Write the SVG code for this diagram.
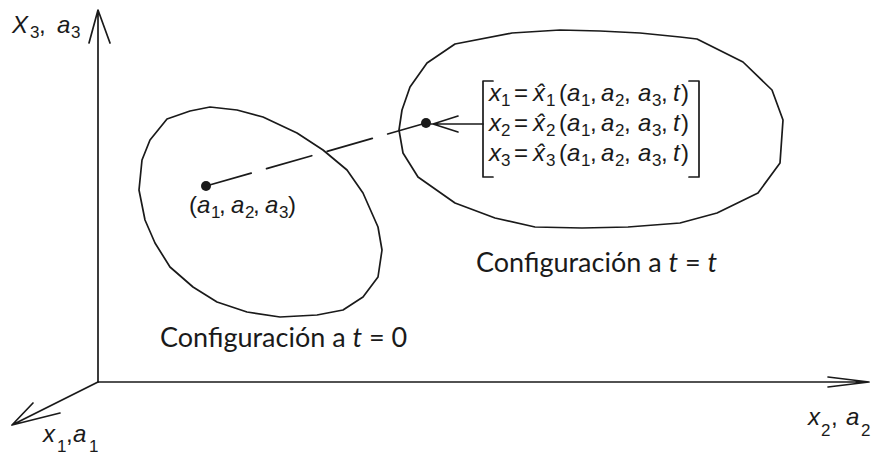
<svg xmlns="http://www.w3.org/2000/svg" width="871" height="456" viewBox="0 0 871 456">
<style>
.ln{fill:none;stroke:#1a1a1a;stroke-width:1.7;stroke-linejoin:round;stroke-linecap:round}
.m{font-family:"Liberation Sans",Arial,sans-serif;font-size:24px;font-style:italic;fill:#1a1a1a}
.s{font-family:"Liberation Sans",Arial,sans-serif;font-size:17px;font-style:normal;fill:#1a1a1a}
.u{font-style:normal}
.cfg{font-family:Lato,"Open Sans",sans-serif;font-size:27px;fill:#1a1a1a}
</style>
<rect width="871" height="456" fill="#fff"/>
<g id="axes">
  <path class="ln" d="M98,382 V10 M89,43 L98,10 L110,43"/>
  <path class="ln" d="M98,382 H869 M828,377 L869,382 L828,387"/>
  <path class="ln" d="M98,382 L12,425 M33,403 L12,425 L60,413"/>
  <text class="m" x="12" y="33">X</text><text class="s" x="30" y="38">3</text><text class="m u" x="39" y="33">,</text>
  <text class="m" x="57" y="33">a</text><text class="s" x="71" y="38">3</text>
  <text class="m" x="43" y="442">x</text><text class="s" x="57" y="452">1</text><text class="m u" x="66" y="442">,</text>
  <text class="m" x="73" y="442">a</text><text class="s" x="89" y="452">1</text>
  <text class="m" x="808" y="425">x</text><text class="s" x="821" y="436">2</text><text class="m u" x="831" y="425">,</text>
  <text class="m" x="846" y="425">a</text><text class="s" x="861" y="436">2</text>
</g>
<g id="config0">
  <polygon class="ln" points="210,107 237,110 263,117 297,133 323,150 347,170 363,193 378,227 382,250 378,277 363,297 343,310 317,315 280,317 247,312 217,302 193,287 170,267 155,243 145,220 139,190 142,160 150,140 167,119 190,111"/>
  <circle cx="206" cy="186" r="5" fill="#1a1a1a"/>
  <text class="m u" x="189" y="213">(</text><text class="m" x="197" y="213">a</text><text class="s" x="211" y="218">1</text><text class="m u" x="219" y="213">,</text>
  <text class="m" x="231" y="213">a</text><text class="s" x="245" y="218">2</text><text class="m u" x="253" y="213">,</text>
  <text class="m" x="265" y="213">a</text><text class="s" x="279" y="218">3</text><text class="m u" x="288" y="213">)</text>
  <text class="cfg" x="160" y="347">Configuración a <tspan font-style="italic">t</tspan> = 0</text>
</g>
<g id="configt">
  <polygon class="ln" points="455,44 512,33 560,30 600,31 640,33 680,37 697,39 743,62 772,90 783,120 780,163 758,193 717,213 680,223 628,227 582,228 535,227 495,218 455,203 418,177 403,153 399,130 402,110 410,87 427,63"/>
  <circle cx="426" cy="123" r="5" fill="#1a1a1a"/>
  <path class="ln" d="M493,81 H483 V177 H493 M689,81 H699 V177 H689"/>
  <g id="row1">
    <text class="m" x="489" y="101">x</text><text class="s" x="501" y="106">1</text><text class="m u" x="514" y="101">=</text>
    <text class="m" x="533" y="101">x̂</text><text class="s" x="546" y="106">1</text><text class="m u" x="559" y="101">(</text>
    <text class="m" x="567" y="101">a</text><text class="s" x="581" y="106">1</text><text class="m u" x="590" y="101">,</text>
    <text class="m" x="601" y="101">a</text><text class="s" x="615" y="106">2</text><text class="m u" x="624" y="101">,</text>
    <text class="m" x="638" y="101">a</text><text class="s" x="652" y="106">3</text><text class="m u" x="661" y="101">,</text>
    <text class="m" x="673" y="101">t</text><text class="m u" x="681" y="101">)</text>
  </g>
  <g id="row2">
    <text class="m" x="489" y="131">x</text><text class="s" x="501" y="136">2</text><text class="m u" x="514" y="131">=</text>
    <text class="m" x="533" y="131">x̂</text><text class="s" x="546" y="136">2</text><text class="m u" x="559" y="131">(</text>
    <text class="m" x="567" y="131">a</text><text class="s" x="581" y="136">1</text><text class="m u" x="590" y="131">,</text>
    <text class="m" x="601" y="131">a</text><text class="s" x="615" y="136">2</text><text class="m u" x="624" y="131">,</text>
    <text class="m" x="638" y="131">a</text><text class="s" x="652" y="136">3</text><text class="m u" x="661" y="131">,</text>
    <text class="m" x="673" y="131">t</text><text class="m u" x="681" y="131">)</text>
  </g>
  <g id="row3">
    <text class="m" x="489" y="161">x</text><text class="s" x="501" y="166">3</text><text class="m u" x="514" y="161">=</text>
    <text class="m" x="533" y="161">x̂</text><text class="s" x="546" y="166">3</text><text class="m u" x="559" y="161">(</text>
    <text class="m" x="567" y="161">a</text><text class="s" x="581" y="166">1</text><text class="m u" x="590" y="161">,</text>
    <text class="m" x="601" y="161">a</text><text class="s" x="615" y="166">2</text><text class="m u" x="624" y="161">,</text>
    <text class="m" x="638" y="161">a</text><text class="s" x="652" y="166">3</text><text class="m u" x="661" y="161">,</text>
    <text class="m" x="673" y="161">t</text><text class="m u" x="681" y="161">)</text>
  </g>
  <text class="cfg" x="476" y="272">Configuración a <tspan font-style="italic">t</tspan> = <tspan font-style="italic">t</tspan></text>
</g>
<g id="connectors">
  <path class="ln" d="M206,186 L426,123" stroke-dasharray="47 16" stroke-linecap="butt"/>
  <path class="ln" d="M483,124 H431 M458,116 L433,124 L458,132"/>
</g>
</svg>
